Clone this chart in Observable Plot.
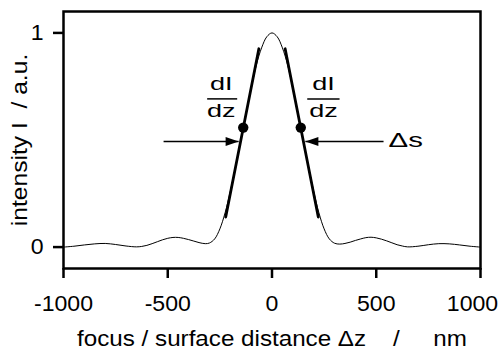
<!DOCTYPE html>
<html><head><meta charset="utf-8">
<script src="https://cdn.jsdelivr.net/npm/d3@7"></script>
<script src="https://cdn.jsdelivr.net/npm/@observablehq/plot@0.6"></script>
<style>html,body{margin:0;padding:0;background:#fff}</style>
</head><body><div id="chart"></div>
<script>
// focus / surface distance (nm) and normalized intensity
const zValues = [-1000,-950,-900,-850,-800,-750,-700,-650,-625,-600,-575,-550,-525,-500,-475,-450,-425,-400,-375,-350,-320,-300,-275,-250,-225,-200,-175,-150,-125,-100,-75,-50,-25,0,
  25,50,75,100,125,150,175,200,225,250,275,300,325,350,375,400,425,450,475,500,525,550,575,600,625,650,700,750,800,850,900,950,1000];
const intensity = [0.000,0.004,0.010,0.015,0.017,0.012,0.005,0.001,0.003,0.008,0.016,0.025,0.034,0.041,0.045,0.045,0.041,0.035,0.028,0.021,0.016,0.019,0.038,0.085,0.16,0.26,0.375,0.50,0.62,0.74,0.85,0.93,0.982,1.0,
  0.982,0.93,0.85,0.74,0.62,0.50,0.375,0.26,0.16,0.085,0.038,0.018,0.014,0.017,0.023,0.031,0.038,0.044,0.046,0.043,0.037,0.029,0.020,0.011,0.005,0.001,0.004,0.011,0.016,0.015,0.010,0.004,0.000];

const xTicks = [-1000, -500, 0, 500, 1000];
const xTickLabels = ["-1000", "-500", "0", "500", "1000"];
const yTicks = [0, 1];
const yTickLabels = ["0", "1"];
const xTitle = "focus / surface distance \u0394z\u00a0\u00a0\u00a0\u00a0/\u00a0\u00a0\u00a0\u00a0\u00a0nm";
const yTitle = "intensity I\u00a0\u00a0/ a.u.";

// tangent segments (max slope dI/dz)
const tangentSeg = ["L", "L", "R", "R"];
const tangentZ = [-222, -63, 63, 222];
const tangentI = [0.14, 0.926, 0.926, 0.14];
// tangent points
const dotZ = [-138, 138];
const dotI = [0.558, 0.558];
// arrows
const arrowFromZ = [-520, 535];
const arrowTipZ = [-160, 160];
const arrowI = [0.493, 0.493];
// dI/dz fraction labels
const fracZ = [-243, 247];
const fracNum = ["dI", "dI"];
const fracDen = ["dz", "dz"];
const fracNumI = [0.733, 0.733];
const fracDenI = [0.606, 0.606];
const barZ1 = [-311, 169];
const barZ2 = [-167, 324];
const barI = [0.692, 0.692];
// Δs label
const deltaZ = [559];
const deltaI = [0.465];
const deltaText = ["\u0394s"];

const curve = zValues.map((z, i) => ({z, I: intensity[i]}));
const tangents = tangentZ.map((z, i) => ({z, I: tangentI[i], seg: tangentSeg[i]}));
const dots = dotZ.map((z, i) => ({z, I: dotI[i]}));
const arrows = arrowTipZ.map((z, i) => ({z1: arrowFromZ[i], z2: z, I: arrowI[i]}));
const fracs = fracZ.map((z, i) => ({z, num: fracNum[i], den: fracDen[i], nI: fracNumI[i], dI: fracDenI[i]}));
const bars = barZ1.map((z, i) => ({z1: z, z2: barZ2[i], I: barI[i]}));
const deltas = deltaZ.map((z, i) => ({z, I: deltaI[i], t: deltaText[i]}));
const lastX = xTicks[xTicks.length - 1];
const xLabel = d => xTickLabels[xTicks.indexOf(d)];

const headRight = {draw(ctx) { ctx.moveTo(0, 0); ctx.lineTo(-13, -4.5); ctx.lineTo(-13, 4.5); ctx.closePath(); }};
const headLeft = {draw(ctx) { ctx.moveTo(0, 0); ctx.lineTo(13, -4.5); ctx.lineTo(13, 4.5); ctx.closePath(); }};

const FS = 22;
const plot = Plot.plot({
  width: 501, height: 352,
  marginLeft: 63, marginRight: 21, marginTop: 11, marginBottom: 84,
  style: {fontFamily: "'Liberation Sans', Arial, sans-serif", fontSize: FS + "px", color: "black", background: "white"},
  x: {domain: [-1000, 1000]},
  y: {domain: [-0.1, 1.1]},
  marks: [
    Plot.frame({strokeWidth: 2.5}),
    Plot.axisX({ticks: xTicks, tickSize: 10, tickPadding: 17, strokeWidth: 2.5, fontSize: FS, label: null,
      tickFormat: d => d === lastX ? "" : xLabel(d)}),
    Plot.axisX({ticks: [lastX], tickSize: 0, tickPadding: 27, dx: -8, fontSize: FS, label: null, tickFormat: xLabel}),
    Plot.axisY({ticks: yTicks, tickSize: 10, tickPadding: 10, strokeWidth: 2.5, fontSize: FS, label: null,
      tickFormat: d => yTickLabels[yTicks.indexOf(d)]}),
    Plot.text([xTitle], {frameAnchor: "bottom", dy: 70, fontSize: FS, lineAnchor: "middle", textAnchor: "middle", text: d => d}),
    Plot.text([yTitle], {frameAnchor: "left", dx: -44, rotate: -90, fontSize: FS, lineAnchor: "middle", textAnchor: "middle", text: d => d}),
    Plot.line(curve, {x: "z", y: "I", stroke: "black", strokeWidth: 1, curve: "catmull-rom"}),
    Plot.line(tangents, {x: "z", y: "I", z: "seg", stroke: "black", strokeWidth: 2.8}),
    Plot.dot(dots, {x: "z", y: "I", r: 5.2, fill: "black", stroke: "none"}),
    Plot.link(arrows, {x1: "z1", x2: "z2", y1: "I", y2: "I", stroke: "black", strokeWidth: 1.5}),
    Plot.dot(arrows.slice(0, 1), {x: "z2", y: "I", symbol: headRight, fill: "black", stroke: "none"}),
    Plot.dot(arrows.slice(1, 2), {x: "z2", y: "I", symbol: headLeft, fill: "black", stroke: "none"}),
    Plot.text(fracs, {x: "z", y: "nI", text: "num", fontSize: 18, lineAnchor: "bottom"}),
    Plot.text(fracs, {x: "z", y: "dI", text: "den", fontSize: 18, lineAnchor: "bottom"}),
    Plot.link(bars, {x1: "z1", x2: "z2", y1: "I", y2: "I", stroke: "black", strokeWidth: 1.5}),
    Plot.text(deltas, {x: "z", y: "I", text: "t", fontSize: 21, textAnchor: "start", lineAnchor: "bottom"})
  ]
});

// horizontal stretch of glyphs, as in the reference typography
function stretchEl(t, s) {
  const tr = t.getAttribute("transform");
  if (tr && /translate/.test(tr)) {
    t.setAttribute("transform", tr + ` scale(${s},1)`);
  } else {
    const x = parseFloat(t.getAttribute("x") || "0");
    t.setAttribute("transform", `translate(${x},0) scale(${s},1) translate(${-x},0)`);
  }
}
plot.querySelectorAll('g[aria-label="x-axis tick label"] text, g[aria-label="y-axis tick label"] text')
  .forEach(t => stretchEl(t, 1.05));
const stretchByText = new Map([[xTitle, 1.1], [yTitle, 1.12], ["dI", 1.5], ["dz", 1.5], ["\u0394s", 1.4]]);
plot.querySelectorAll("text").forEach(t => {
  const s = stretchByText.get(t.textContent);
  if (s) stretchEl(t, s);
});

document.getElementById("chart").appendChild(plot);
</script>
</body></html>
